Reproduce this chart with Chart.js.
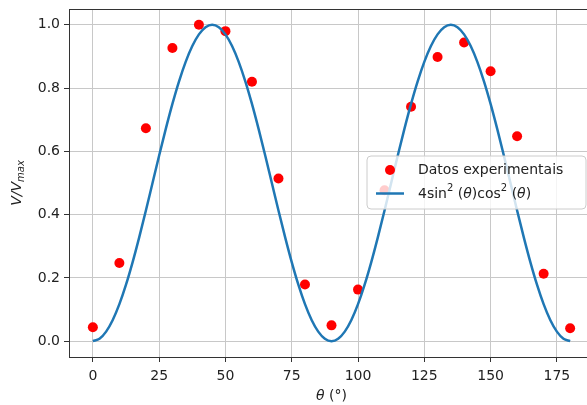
<!DOCTYPE html>
<html>
<head>
<meta charset="utf-8">
<script src="https://cdn.jsdelivr.net/npm/chart.js@4"></script>
<style>
  html, body { margin: 0; padding: 0; background: #fff; overflow: hidden; }
  canvas { display: block; }
</style>
</head>
<body>
<canvas id="chart" width="600" height="405"></canvas>
<script>
// Measured points (angle in degrees, normalised voltage)
const angles = [0, 10, 20, 30, 40, 50, 60, 70, 80, 90, 100, 110, 120, 130, 140, 150, 160, 170, 180];
const measured = [0.044, 0.247, 0.673, 0.927, 1.0, 0.98, 0.82, 0.514, 0.179, 0.05, 0.163, 0.477, 0.741, 0.898, 0.944, 0.853, 0.648, 0.213, 0.041];

// Model curve sampled every 2.5 degrees
const curveAngles = [
  0, 2.5, 5, 7.5, 10, 12.5, 15, 17.5, 20, 22.5, 25, 27.5, 30, 32.5, 35, 37.5, 40, 42.5, 45,
  47.5, 50, 52.5, 55, 57.5, 60, 62.5, 65, 67.5, 70, 72.5, 75, 77.5, 80, 82.5, 85, 87.5, 90,
  92.5, 95, 97.5, 100, 102.5, 105, 107.5, 110, 112.5, 115, 117.5, 120, 122.5, 125, 127.5, 130, 132.5, 135,
  137.5, 140, 142.5, 145, 147.5, 150, 152.5, 155, 157.5, 160, 162.5, 165, 167.5, 170, 172.5, 175, 177.5, 180
];
const curveValues = [
  0, 0.0076, 0.0302, 0.067, 0.117, 0.1786, 0.25, 0.329, 0.4132, 0.5, 0.5868, 0.671, 0.75, 0.8214, 0.883, 0.933, 0.9698, 0.9924, 1,
  0.9924, 0.9698, 0.933, 0.883, 0.8214, 0.75, 0.671, 0.5868, 0.5, 0.4132, 0.329, 0.25, 0.1786, 0.117, 0.067, 0.0302, 0.0076, 0,
  0.0076, 0.0302, 0.067, 0.117, 0.1786, 0.25, 0.329, 0.4132, 0.5, 0.5868, 0.671, 0.75, 0.8214, 0.883, 0.933, 0.9698, 0.9924, 1,
  0.9924, 0.9698, 0.933, 0.883, 0.8214, 0.75, 0.671, 0.5868, 0.5, 0.4132, 0.329, 0.25, 0.1786, 0.117, 0.067, 0.0302, 0.0076, 0
];

const xTicks = [0, 25, 50, 75, 100, 125, 150, 175];
const yTicks = [0, 0.2, 0.4, 0.6, 0.8, 1.0];

const FONT = "'DejaVu Sans', sans-serif";
const TEXT = '#222';

// Draw a run of text pieces (italic / superscript / subscript) starting at x
const drawRich = (ctx, parts, x, y) => {
    ctx.textBaseline = 'middle';
    ctx.textAlign = 'left';
    let cx = x;
    parts.forEach(p => {
        const size = p.sup || p.sub ? 10 : 14;
        ctx.font = (p.italic ? 'italic ' : '') + size + 'px ' + FONT;
        const dy = p.sup ? -6 : (p.sub ? 4 : 0);
        ctx.fillText(p.t, cx, y + dy);
        cx += ctx.measureText(p.t).width;
    });
    return cx - x;
};

const richWidth = (ctx, parts) => {
    let w = 0;
    parts.forEach(p => {
        const size = p.sup || p.sub ? 10 : 14;
        ctx.font = (p.italic ? 'italic ' : '') + size + 'px ' + FONT;
        w += ctx.measureText(p.t).width;
    });
    return w;
};

const decorations = {
    id: 'decorations',
    afterDatasetsDraw(chart) {
        const ctx = chart.ctx;
        const a = chart.chartArea;
        ctx.save();

        // frame around the plot
        ctx.strokeStyle = '#333';
        ctx.lineWidth = 1;
        ctx.strokeRect(Math.round(a.left) + 0.5, Math.round(a.top) + 0.5,
            Math.round(a.right - a.left), Math.round(a.bottom - a.top));

        ctx.fillStyle = TEXT;

        // x axis title
        const xParts = [{ t: 'θ', italic: true }, { t: ' (°)' }];
        const xw = richWidth(ctx, xParts);
        drawRich(ctx, xParts, (a.left + a.right) / 2 - xw / 2, 396);

        // y axis title
        const yParts = [{ t: 'V/V', italic: true }, { t: 'max', italic: true, sub: true }];
        const yw = richWidth(ctx, yParts);
        ctx.save();
        ctx.translate(17, (a.top + a.bottom) / 2);
        ctx.rotate(-Math.PI / 2);
        drawRich(ctx, yParts, -yw / 2, 0);
        ctx.restore();

        // legend box
        const lx = 367, ly = 156, lw = 219, lh = 53, r = 4;
        ctx.beginPath();
        ctx.moveTo(lx + r, ly);
        ctx.arcTo(lx + lw, ly, lx + lw, ly + lh, r);
        ctx.arcTo(lx + lw, ly + lh, lx, ly + lh, r);
        ctx.arcTo(lx, ly + lh, lx, ly, r);
        ctx.arcTo(lx, ly, lx + lw, ly, r);
        ctx.closePath();
        ctx.fillStyle = 'rgba(255,255,255,0.8)';
        ctx.fill();
        ctx.strokeStyle = '#cccccc';
        ctx.lineWidth = 1;
        ctx.stroke();

        // legend entries
        ctx.fillStyle = 'red';
        ctx.beginPath();
        ctx.arc(390, 170, 5, 0, Math.PI * 2);
        ctx.fill();

        ctx.strokeStyle = '#1f77b4';
        ctx.lineWidth = 2.5;
        ctx.beginPath();
        ctx.moveTo(376, 193.5);
        ctx.lineTo(404, 193.5);
        ctx.stroke();

        ctx.fillStyle = TEXT;
        drawRich(ctx, [{ t: 'Datos experimentais' }], 418, 170);
        drawRich(ctx, [
            { t: '4sin' }, { t: '2', sup: true }, { t: ' (' }, { t: 'θ', italic: true }, { t: ')cos' },
            { t: '2', sup: true }, { t: ' (' }, { t: 'θ', italic: true }, { t: ')' }
        ], 418, 194);

        ctx.restore();
    }
};

new Chart(document.getElementById('chart').getContext('2d'), {
    type: 'scatter',
    data: {
        datasets: [
            {
                label: '4sin²(θ)cos²(θ)',
                data: curveAngles.map((x, i) => ({ x, y: curveValues[i] })),
                showLine: true,
                borderColor: '#1f77b4',
                borderWidth: 2.5,
                pointRadius: 0,
                cubicInterpolationMode: 'monotone',
                order: 0
            },
            {
                label: 'Datos experimentais',
                data: angles.map((x, i) => ({ x, y: measured[i] })),
                backgroundColor: 'red',
                borderWidth: 0,
                pointRadius: 5,
                order: 1
            }
        ]
    },
    options: {
        responsive: false,
        animation: false,
        layout: { padding: { top: 9, right: 6, left: 0, bottom: 0 } },
        plugins: {
            legend: { display: false },
            tooltip: { enabled: false }
        },
        scales: {
            x: {
                type: 'linear',
                min: -9,
                max: 189,
                afterBuildTicks: scale => { scale.ticks = xTicks.map(v => ({ value: v })); },
                afterFit: scale => {
                    scale.height = 48;
                    scale.paddingLeft = 0;
                    scale.paddingRight = 0;
                },
                grid: { color: '#c8c8c8', tickColor: '#333', tickLength: 5, lineWidth: 1 },
                border: { color: '#333', width: 1 },
                ticks: { color: TEXT, font: { family: FONT, size: 14 }, padding: 6, maxRotation: 0 }
            },
            y: {
                min: -0.05,
                max: 1.05,
                afterBuildTicks: scale => { scale.ticks = yTicks.map(v => ({ value: v })); },
                afterFit: scale => {
                    scale.width = 69;
                    scale.paddingTop = 0;
                    scale.paddingBottom = 0;
                },
                grid: { color: '#c8c8c8', tickColor: '#333', tickLength: 5, lineWidth: 1 },
                border: { color: '#333', width: 1 },
                ticks: {
                    color: TEXT,
                    font: { family: FONT, size: 14 },
                    padding: 4,
                    callback: v => v.toFixed(1)
                }
            }
        }
    },
    plugins: [decorations]
});
</script>
</body>
</html>
